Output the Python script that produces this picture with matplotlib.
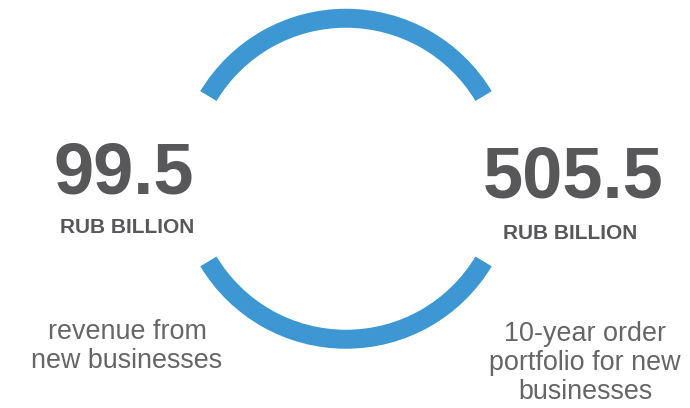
import matplotlib.pyplot as plt
from matplotlib.patches import Wedge

# chart content
values = ["99.5", "505.5"]
units = ["RUB BILLION", "RUB BILLION"]
captions = ["revenue from\nnew businesses", "10-year order\nportfolio for new\nbusinesses"]

W, H = 690, 408
blue = "#3d97d3"
dark = "#58585b"
grey = "#666666"

fig = plt.figure(figsize=(W / 100, H / 100), dpi=100)
ax = fig.add_axes([0, 0, 1, 1])
ax.set_xlim(0, W)
ax.set_ylim(0, H)
ax.axis("off")

# ring split in two arcs (top and bottom)
cx, cy, r, ring_w = 346, H - 178.75, 170, 19
for t1, t2 in [(31, 149), (211, 329)]:
    ax.add_patch(Wedge((cx, cy), r, t1, t2, width=ring_w, color=blue, lw=0))

bold = ["Liberation Sans", "DejaVu Sans"]

# big numbers, units and captions, left and right (baselines, pixels from top)
num_pos = [(124, 194), (573, 198)]
unit_pos = [(127, 233), (570, 239)]
cap_pos = [(127, 368), (585, 399)]

for i in range(2):
    ax.text(num_pos[i][0], H - num_pos[i][1], values[i], family=bold, weight="bold",
            fontsize=52, color=dark, ha="center", va="baseline")
    ax.text(unit_pos[i][0], H - unit_pos[i][1], units[i], family=bold, weight="bold",
            fontsize=15, color=dark, ha="center", va="baseline")
    ax.text(cap_pos[i][0], H - cap_pos[i][1], captions[i], family=bold,
            fontsize=19.4, color=grey, ha="center", va="baseline", linespacing=1.15)

fig.savefig("out.png", dpi=100)
